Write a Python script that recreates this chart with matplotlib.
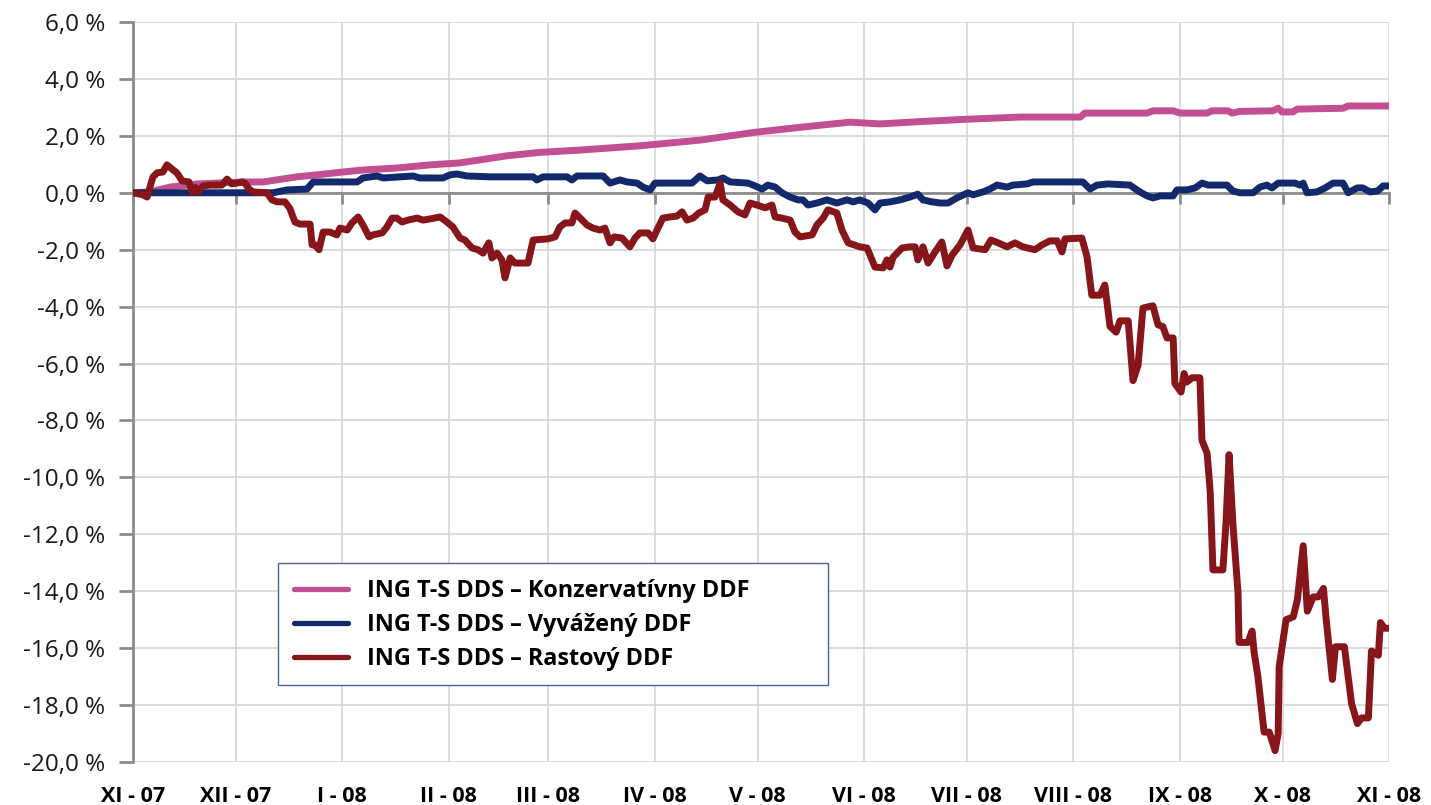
import datetime as dt
import numpy as np
import matplotlib
matplotlib.use("Agg")
import matplotlib.pyplot as plt
import matplotlib.dates as mdates
from matplotlib.patches import Rectangle
from matplotlib.ticker import FuncFormatter, MultipleLocator

plt.rcParams['font.family'] = ['Open Sans', 'DejaVu Sans']

# ---- data: days since 1 Nov 2007, cumulative return in % ----
kons_days = [0, 5.0, 10.8, 18.6, 32.1, 37.9, 47.8, 53.6, 61.2, 67.0, 76.9, 86.5, 95.3,
             109.0, 118.6, 130.3, 147.7, 165.2, 181.0, 194.4, 208.9, 217.7, 229.3,
             242.4, 258.5, 276.0, 277.4, 295.5, 297.2, 303.1, 305.1, 313.0, 314.4,
             319.1, 320.3, 322.6, 332.2, 333.7, 334.8, 338.0, 339.2, 352.6, 354.1, 366]
kons_vals = [0.0, 0.03, 0.2, 0.31, 0.38, 0.38, 0.56, 0.63, 0.73, 0.8, 0.87, 0.98, 1.05,
             1.3, 1.42, 1.5, 1.65, 1.85, 2.12, 2.3, 2.48, 2.42, 2.5,
             2.58, 2.66, 2.66, 2.8, 2.8, 2.88, 2.88, 2.8, 2.8, 2.88,
             2.88, 2.8, 2.86, 2.88, 2.97, 2.84, 2.84, 2.94, 2.97, 3.05, 3.05]

vyv_days = [0, 40.8, 42.0, 44.9, 50.7, 52.5, 65.3, 67.0, 71.1, 72.9, 81.6, 83.6, 90.3,
            92.4, 94.4, 97.3, 104.0, 116.6, 117.7, 119.5, 126.5, 127.9, 129.4, 137.0,
            139.0, 141.9, 144.0, 146.9, 148.6, 150.7, 152.1, 162.9, 165.2, 167.3, 170.5,
            171.9, 174.0, 179.2, 181.3, 183.3, 185.0, 187.1, 189.1, 191.5, 193.8, 195.2,
            196.7, 199.3, 202.2, 205.1, 208.1, 209.8, 211.8, 214.2, 216.2, 217.7, 220.6,
            223.5, 226.4, 228.7, 230.2, 232.8, 235.2, 237.5, 240.1, 243.3, 244.8, 247.7,
            249.7, 251.8, 254.7, 256.4, 260.5, 262.3, 276.8, 278.9, 280.9, 284.1, 290.5,
            293.4, 295.5, 297.2, 299.3, 303.1, 304.2, 307.1, 309.5, 311.5, 313.3, 318.8,
            320.5, 322.6, 326.4, 328.4, 330.4, 331.9, 333.7, 338.6, 340.1, 341.0, 342.1,
            345.0, 347.4, 349.7, 352.6, 354.1, 356.7, 358.4, 360.5, 362.6, 364.3, 366]
vyv_vals = [0.0, 0.0, 0.03, 0.1, 0.13, 0.38, 0.38, 0.52, 0.59, 0.52, 0.59, 0.52, 0.52,
            0.63, 0.66, 0.59, 0.56, 0.56, 0.45, 0.56, 0.56, 0.45, 0.59, 0.59,
            0.34, 0.45, 0.38, 0.34, 0.2, 0.1, 0.34, 0.34, 0.59, 0.42, 0.45,
            0.52, 0.38, 0.34, 0.24, 0.13, 0.27, 0.2, 0.0, -0.15, -0.25, -0.25,
            -0.43, -0.36, -0.25, -0.36, -0.25, -0.32, -0.25, -0.36, -0.6, -0.36, -0.32,
            -0.25, -0.15, -0.05, -0.25, -0.32, -0.36, -0.36, -0.18, 0.0, -0.07, 0.03,
            0.13, 0.27, 0.2, 0.27, 0.31, 0.38, 0.38, 0.13, 0.27, 0.31, 0.27,
            0.03, -0.11, -0.18, -0.11, -0.11, 0.1, 0.1, 0.17, 0.34, 0.27, 0.27,
            0.06, 0.0, 0.0, 0.2, 0.27, 0.17, 0.34, 0.34, 0.27, 0.34, 0.0,
            0.03, 0.17, 0.34, 0.34, 0.0, 0.17, 0.17, 0.03, 0.06, 0.24, 0.24]

rast_days = [0, 2.9, 4.1, 5.8, 7.0, 8.7, 9.9, 11.7, 12.8, 14.3, 16.3, 17.2, 18.1, 18.9,
             20.4, 22.4, 25.9, 27.4, 28.8, 30.3, 31.8, 32.6, 33.8, 35.0, 39.0, 40.5,
             42.0, 44.3, 45.7, 47.2, 48.7, 51.6, 52.2, 53.0, 54.2, 55.4, 57.4, 59.4,
             60.3, 62.4, 63.8, 65.6, 67.0, 68.8, 69.9, 72.6, 74.0, 75.5, 76.9, 78.4,
             80.1, 82.8, 84.5, 86.5, 89.5, 91.5, 93.2, 95.3, 96.7, 98.8, 100.5, 102.0,
             103.7, 104.6, 106.1, 107.5, 108.4, 109.9, 111.3, 115.1, 116.6, 120.9,
             123.0, 124.4, 125.9, 127.9, 128.8, 130.3, 132.3, 134.0, 136.1, 137.5,
             139.0, 140.2, 142.5, 144.8, 146.3, 147.7, 150.1, 151.5, 152.7, 154.4,
             156.5, 158.5, 160.0, 161.4, 163.2, 164.9, 166.7, 167.6, 169.6, 171.1,
             171.9, 174.0, 176.3, 178.3, 179.8, 181.8, 184.2, 186.2, 187.1, 189.1,
             191.5, 192.9, 194.4, 197.9, 199.3, 201.1, 202.5, 205.1, 206.6, 208.4,
             211.8, 213.9, 216.2, 218.6, 219.7, 220.6, 221.5, 224.1, 226.4, 227.9,
             228.7, 230.2, 231.7, 233.7, 235.7, 237.2, 238.7, 241.0, 243.3, 244.8,
             248.3, 250.0, 252.1, 254.7, 257.0, 259.3, 262.8, 264.9, 267.2, 269.3,
             270.7, 271.6, 276.5, 278.0, 279.4, 281.8, 283.2, 284.7, 286.5, 287.6,
             290.0, 291.4, 292.9, 294.3, 297.2, 298.7, 300.1, 301.3, 303.1, 303.6,
             305.4, 306.3, 307.1, 308.6, 310.9, 311.5, 313.0, 313.9, 314.7, 317.6,
             318.5, 319.4, 320.5, 322.0, 322.3, 324.9, 326.1, 326.7, 327.8, 329.6,
             331.1, 332.8, 333.7, 334.0, 336.0, 338.1, 339.3, 341.0, 342.2, 343.9,
             345.4, 346.9, 347.7, 349.5, 350.4, 353.0, 355.1, 356.8, 358.0, 360.0,
             360.9, 362.9, 363.5, 364.7, 366]
rast_vals = [0.0, -0.07, -0.15, 0.55, 0.7, 0.73, 0.98, 0.8, 0.7, 0.42, 0.38, 0.03, 0.2, 0.03,
             0.24, 0.27, 0.27, 0.48, 0.31, 0.34, 0.38, 0.34, 0.13, 0.03, 0.0, -0.25,
             -0.32, -0.32, -0.55, -1.03, -1.1, -1.1, -1.83, -1.83, -2.0, -1.38, -1.38, -1.48,
             -1.24, -1.31, -1.06, -0.85, -1.13, -1.55, -1.48, -1.41, -1.2, -0.89, -0.89, -1.03,
             -0.96, -0.89, -0.96, -0.92, -0.85, -1.03, -1.2, -1.59, -1.66, -1.94, -2.0, -2.12,
             -1.76, -2.29, -2.12, -2.36, -2.99, -2.29, -2.47, -2.47, -1.66, -1.62,
             -1.55, -1.2, -1.06, -1.06, -0.71, -0.89, -1.13, -1.24, -1.31, -1.24,
             -1.76, -1.55, -1.59, -1.9, -1.59, -1.41, -1.41, -1.62, -1.31, -0.89,
             -0.85, -0.82, -0.67, -0.96, -0.89, -0.71, -0.6, -0.15, -0.15, 0.34,
             -0.25, -0.43, -0.67, -0.78, -0.36, -0.43, -0.53, -0.43, -0.85, -0.89,
             -0.96, -1.38, -1.55, -1.48, -1.13, -0.89, -0.6, -0.71, -1.31, -1.76,
             -1.9, -1.94, -2.61, -2.64, -2.36, -2.61, -2.26, -1.94, -1.9, -1.9,
             -2.36, -1.9, -2.47, -2.08, -1.73, -2.57, -2.19, -1.83, -1.31, -1.94,
             -2.0, -1.66, -1.76, -1.9, -1.76, -1.9, -2.0, -1.83, -1.69, -1.69,
             -2.08, -1.62, -1.59, -2.25, -3.6, -3.6, -3.24, -4.7, -4.9, -4.5,
             -4.5, -6.6, -6.05, -4.05, -3.97, -4.64, -4.7, -5.1, -5.1, -6.7,
             -7.0, -6.35, -6.65, -6.5, -6.5, -8.7, -9.15, -10.5, -13.25, -13.25,
             -11.6, -9.2, -11.6, -14.05, -15.8, -15.8, -15.4, -16.15, -17.0, -18.95,
             -18.95, -19.6, -19.0, -16.65, -15.0, -14.9, -14.3, -12.4, -14.7, -14.2,
             -14.2, -13.9, -15.0, -17.1, -15.95, -15.95, -17.95, -18.65, -18.45, -18.45,
             -16.1, -16.25, -15.1, -15.3, -15.3]

labels = ["ING T-S DDS \u2013 Konzervatívny DDF",
          "ING T-S DDS \u2013 Vyvážený DDF",
          "ING T-S DDS \u2013 Rastový DDF"]
colors = ["#C24F92", "#12296C", "#87161B"]
roman = ["I", "II", "III", "IV", "V", "VI", "VII", "VIII", "IX", "X", "XI", "XII"]

start = mdates.date2num(dt.datetime(2007, 11, 1))
end = mdates.date2num(dt.datetime(2008, 11, 1))

fig = plt.figure(figsize=(14.31, 8.05), dpi=100)
ax = fig.add_axes([133/1431, 1 - 762/805, (1389-133)/1431, (762-22)/805])

for d, v, c, lab in zip([kons_days, vyv_days, rast_days],
                        [kons_vals, vyv_vals, rast_vals], colors, labels):
    ax.plot(start + np.array(d), v, color=c, lw=5.0, label=lab,
            solid_joinstyle='round', solid_capstyle='round', zorder=3)

ax.set_xlim(start, end)
ax.set_ylim(-20, 6)
ax.yaxis.set_major_locator(MultipleLocator(2))
ax.yaxis.set_major_formatter(FuncFormatter(lambda v, p: f"{v:.1f} %".replace('.', ',')))

grid_c = "#D2D2D2"
ax.grid(True, color=grid_c, lw=1.1, zorder=0)
ax.set_axisbelow(True)

ax.xaxis.set_major_locator(mdates.MonthLocator())
ax.xaxis.set_major_formatter(FuncFormatter(lambda v, p: ""))
ax.spines['bottom'].set_position(('data', 0))
ax.spines['bottom'].set_color("#8C8C8C")
ax.spines['bottom'].set_linewidth(2)
ax.spines['bottom'].set_zorder(2.5)
ax.spines['left'].set_color("#8C8C8C")
ax.spines['left'].set_linewidth(2)
ax.spines['top'].set_visible(False)
ax.spines['right'].set_visible(False)
ax.tick_params(axis='x', direction='out', length=8, width=2, color="#8C8C8C")
ax.tick_params(axis='y', direction='out', length=10, width=2, color="#8C8C8C",
               labelsize=17.5, pad=10, labelcolor="#1A1A1A")


def month_label(v, p):
    d = mdates.num2date(v)
    return f"{roman[d.month - 1]} - {d.year % 100:02d}"


sec = ax.secondary_xaxis('bottom')
sec.xaxis.set_major_locator(mdates.MonthLocator())
sec.xaxis.set_major_formatter(FuncFormatter(month_label))
sec.tick_params(length=0, pad=17, labelsize=15.5)
for t in sec.get_xticklabels():
    t.set_fontweight('bold')
sec.spines['bottom'].set_visible(False)

# legend box (fixed size as in the original)
box = Rectangle(((278-133)/1256, (762-685)/740), 550/1256, 122/740,
                transform=ax.transAxes, facecolor='white', edgecolor="#4A64A0",
                lw=1.0, zorder=4)
ax.add_patch(box)
leg = ax.legend(loc='upper left', bbox_to_anchor=((278-133)/1256, (762-563)/740),
                borderaxespad=0, frameon=False,
                prop={'weight': 'bold', 'size': 16.8},
                handlelength=2.3, handletextpad=0.8, borderpad=0.7,
                labelspacing=0.42)
leg.set_zorder(5)
for line in leg.get_lines():
    line.set_linewidth(3.8)

fig.savefig("out.png", dpi=100)
